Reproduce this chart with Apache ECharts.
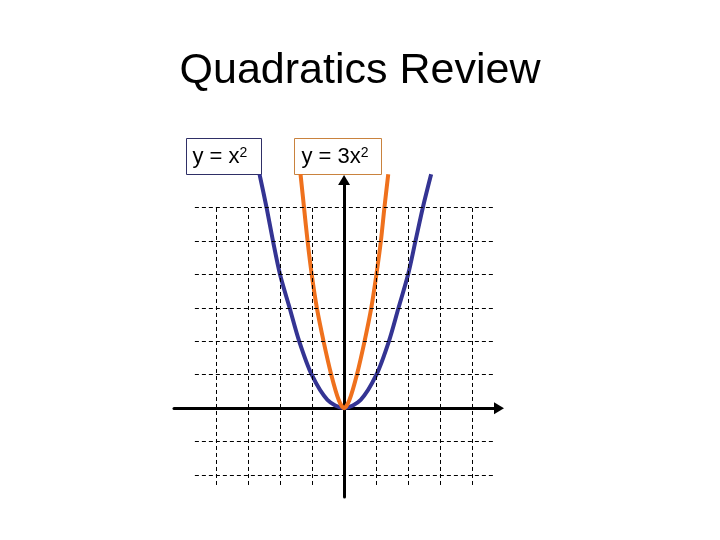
<!DOCTYPE html>
<html>
<head>
<meta charset="utf-8">
<script src="https://cdn.jsdelivr.net/npm/echarts@6/dist/echarts.min.js"></script>
<style>
  html, body { margin: 0; background: #fff; }
  #main { width: 720px; height: 540px; }
</style>
</head>
<body>
<div id="main"></div>
<script>
// points (x, y in grid units)
const squareX = [-2.64, -2.42, -2.22, -2.0, -1.7, -1.4, -1.01, -0.52, 0, 0.52, 1.01, 1.4, 1.7, 2.0, 2.23, 2.46, 2.72];
const squareY = [7, 6, 5, 4, 3, 2, 1, 0.25, 0, 0.25, 1, 2, 3, 4, 5, 6, 7];
const tripleX = [-1.36, -1.25, -1.14, -1.01, -0.85, -0.64, -0.4, -0.17, 0, 0.17, 0.4, 0.64, 0.85, 1.01, 1.15, 1.26, 1.38];
const tripleY = [7, 6, 5, 4, 3, 2, 1, 0.25, 0, 0.25, 1, 2, 3, 4, 5, 6, 7];

// dashed grid
const gridXs = [-4, -3, -2, -1, 1, 2, 3, 4];
const gridYs = [-2, -1, 1, 2, 3, 4, 5, 6];

const hLineFrom = -4.66, hLineTo = 4.66;
const vLineFrom = -2.3, vLineTo = 6;

let chart = echarts.init(document.getElementById('main'), null, { renderer: 'canvas' });

const zip = (xs, ys) => xs.map((x, i) => [x, ys[i]]);

const gridLines = [];
gridYs.forEach(y => gridLines.push([{ coord: [hLineFrom, y] }, { coord: [hLineTo, y] }]));
gridXs.forEach(x => gridLines.push([{ coord: [x, vLineFrom] }, { coord: [x, vLineTo] }]));

const axisLine = {
  onZero: true,
  symbol: ['none', 'triangle'],
  symbolSize: [12, 10],
  lineStyle: { color: '#000', width: 3 }
};

const labelRich = {
  a: { fontFamily: 'Liberation Sans', fontSize: 22, color: '#000' },
  s: { fontFamily: 'Liberation Sans', fontSize: 14, color: '#000', verticalAlign: 'top' }
};

const option = {
  backgroundColor: '#fff',
  animation: false,
  title: {
    text: 'Quadratics Review',
    left: 'center',
    top: 45,
    textStyle: { fontFamily: 'Liberation Sans', fontSize: 43, fontWeight: 'normal', color: '#000' }
  },
  grid: { left: 174, right: 221, top: 180, bottom: 43 },
  xAxis: {
    type: 'value',
    min: -5.3125,
    max: 4.84,
    axisLine: axisLine,
    axisTick: { show: false },
    axisLabel: { show: false },
    splitLine: { show: false }
  },
  yAxis: {
    type: 'value',
    min: -2.66,
    max: 6.83,
    axisLine: axisLine,
    axisTick: { show: false },
    axisLabel: { show: false },
    splitLine: { show: false }
  },
  series: [
    {
      name: 'grid',
      type: 'line',
      data: [],
      z: 1,
      silent: true,
      markLine: {
        silent: true,
        symbol: ['none', 'none'],
        label: { show: false },
        lineStyle: { color: '#000', width: 1, type: [4, 3] },
        emphasis: { disabled: true },
        data: gridLines
      }
    },
    {
      name: 'y = x2',
      type: 'line',
      data: zip(squareX, squareY),
      smooth: 0.3,
      showSymbol: false,
      clip: false,
      z: 3,
      lineStyle: { color: '#343493', width: 4 }
    },
    {
      name: 'y = 3x2',
      type: 'line',
      data: zip(tripleX, tripleY),
      smooth: 0.3,
      showSymbol: false,
      clip: false,
      z: 4,
      lineStyle: { color: '#ef711d', width: 4 }
    }
  ],
  graphic: [
    {
      type: 'rect',
      shape: { x: 186.5, y: 138.5, width: 75, height: 36 },
      style: { fill: '#fff', stroke: '#2f2f66', lineWidth: 1 }
    },
    {
      type: 'text',
      x: 192.5,
      y: 157,
      style: { text: '{a|y = x}{s|2}', verticalAlign: 'middle', rich: labelRich }
    },
    {
      type: 'rect',
      shape: { x: 294.5, y: 138.5, width: 87, height: 36 },
      style: { fill: '#fff', stroke: '#c9823e', lineWidth: 1 }
    },
    {
      type: 'text',
      x: 301.5,
      y: 157,
      style: { text: '{a|y = 3x}{s|2}', verticalAlign: 'middle', rich: labelRich }
    }
  ]
};

chart.setOption(option);
</script>
</body>
</html>
